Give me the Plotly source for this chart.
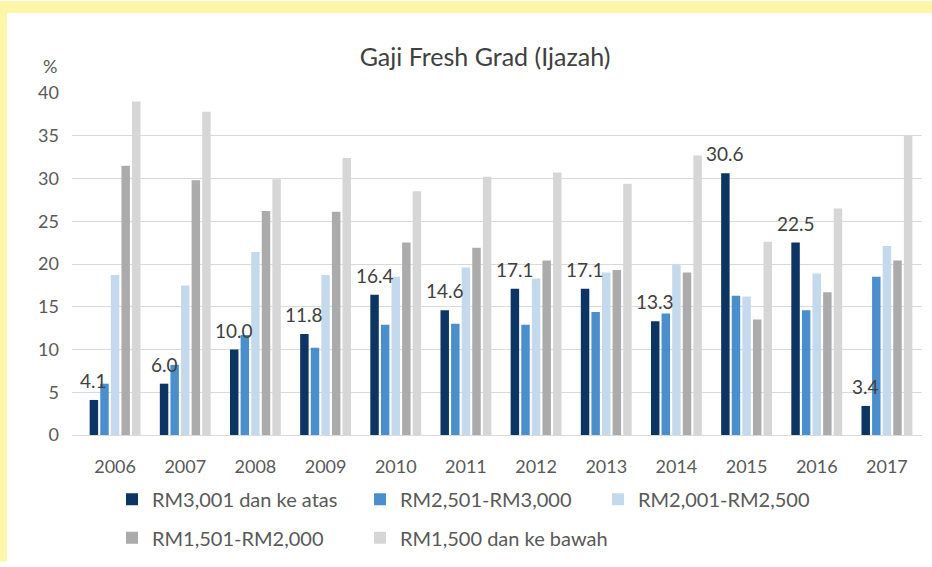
import plotly.graph_objects as go

years = ['2006', '2007', '2008', '2009', '2010', '2011', '2012', '2013', '2014', '2015', '2016', '2017']
names = ['RM3,001 dan ke atas', 'RM2,501-RM3,000', 'RM2,001-RM2,500', 'RM1,501-RM2,000', 'RM1,500 dan ke bawah']
rm3001_up = [4.1, 6.0, 10.0, 11.8, 16.4, 14.6, 17.1, 17.1, 13.3, 30.6, 22.5, 3.4]
rm2501_3000 = [6.0, 8.2, 11.7, 10.2, 12.9, 13.0, 12.9, 14.4, 14.2, 16.3, 14.6, 18.5]
rm2001_2500 = [18.7, 17.5, 21.4, 18.7, 18.5, 19.6, 18.3, 19.0, 19.9, 16.2, 18.9, 22.1]
rm1501_2000 = [31.5, 29.8, 26.2, 26.1, 22.5, 21.9, 20.4, 19.3, 19.0, 13.5, 16.7, 20.4]
rm1500_down = [39.0, 37.8, 29.9, 32.4, 28.5, 30.2, 30.7, 29.4, 32.7, 22.6, 26.5, 35.0]
y_ticks = [0, 5, 10, 15, 20, 25, 30, 35, 40]

series = [rm3001_up, rm2501_3000, rm2001_2500, rm1501_2000, rm1500_down]
colors = ['#0d3563', '#4a8fcb', '#c5d9ec', '#ababab', '#d6d6d6']

W, H = 932, 567
L, R, T, B = 72, 10, 93, 128
PW, PH = W - L - R, H - T - B
X_RANGE = [-0.614, 11.5]
BARGAP, GROUPGAP = 0.245, 0.2


def px(x):
    return (x - L) / PW


def py(y):
    return (H - B - y) / PH


FONT = 'Lato, Carlito, Calibri, sans-serif'

# legend entry placement (pixel x of entry, pixel y of row)
legend_pos = [(112, 504), (360, 504), (598, 504), (112, 543), (360, 543)]
legend_ids = ['legend', 'legend2', 'legend3', 'legend4', 'legend5']

fig = go.Figure()
for name, vals, col, lg in zip(names, series, colors, legend_ids):
    fig.add_trace(go.Bar(x=years, y=vals, name=name, marker=dict(color=col, line=dict(width=0)),
                         legend=lg, showlegend=True, hoverinfo='x+y+name'))

# data labels of the first series, centred over its bar (bar 1 of 5 in each group)
slot = (1 - BARGAP) / len(series)
label_ann = [dict(x=i - 2 * slot, y=v, xref='x', yref='y', text=f'{v:.1f}', showarrow=False,
                  xanchor='center', yanchor='bottom', yshift=6,
                  font=dict(family=FONT, size=19, color='#404040'))
             for i, v in enumerate(rm3001_up)]

legends = {}
for lg, (lx, ly) in zip(legend_ids, legend_pos):
    legends[lg] = dict(orientation='h', x=px(lx), xanchor='left', y=py(ly), yanchor='middle',
                       bgcolor='rgba(0,0,0,0)', font=dict(family=FONT, size=20, color='#595959'),
                       itemwidth=30)

fig.update_layout(
    width=W, height=H,
    margin=dict(l=L, r=R, t=T, b=B),
    showlegend=True,
    paper_bgcolor='white',
    plot_bgcolor='white',
    barmode='group', bargap=BARGAP, bargroupgap=GROUPGAP,
    font=dict(family=FONT, color='#595959'),
    title=dict(text='Gaji Fresh Grad (Ijazah)', x=485 / W, xanchor='center',
               y=1 - 57 / H, yanchor='middle', font=dict(family=FONT, size=25, color='#404040')),
    xaxis=dict(type='category', range=X_RANGE, showgrid=False, showline=False,
               ticks='', tickfont=dict(size=18, color='#595959'), ticklabelstandoff=19),
    yaxis=dict(range=[0, 40], tickvals=y_ticks, showgrid=True, gridcolor='#d9d9d9', gridwidth=1,
               zeroline=True, zerolinecolor='#d9d9d9', zerolinewidth=1, showline=False,
               ticks='', tickfont=dict(size=18, color='#595959'), ticklabelstandoff=12),
    shapes=[
        dict(type='rect', xref='paper', yref='paper', x0=px(0), x1=px(W),
             y0=py(12), y1=py(0), fillcolor='#fbf6a9', line=dict(width=0), layer='above'),
        dict(type='rect', xref='paper', yref='paper', x0=px(0), x1=px(7),
             y0=py(H), y1=py(0), fillcolor='#fbf6a9', line=dict(width=0), layer='above'),
    ],
    annotations=label_ann + [dict(text='%', xref='paper', yref='paper', x=px(50), y=py(66),
                                  showarrow=False, font=dict(family=FONT, size=18, color='#595959'),
                                  xanchor='center', yanchor='middle')],
    **legends,
)

fig.write_html('out.html', config={'displayModeBar': False},
               post_script="document.body.style.margin='0';document.body.style.overflow='hidden';")
